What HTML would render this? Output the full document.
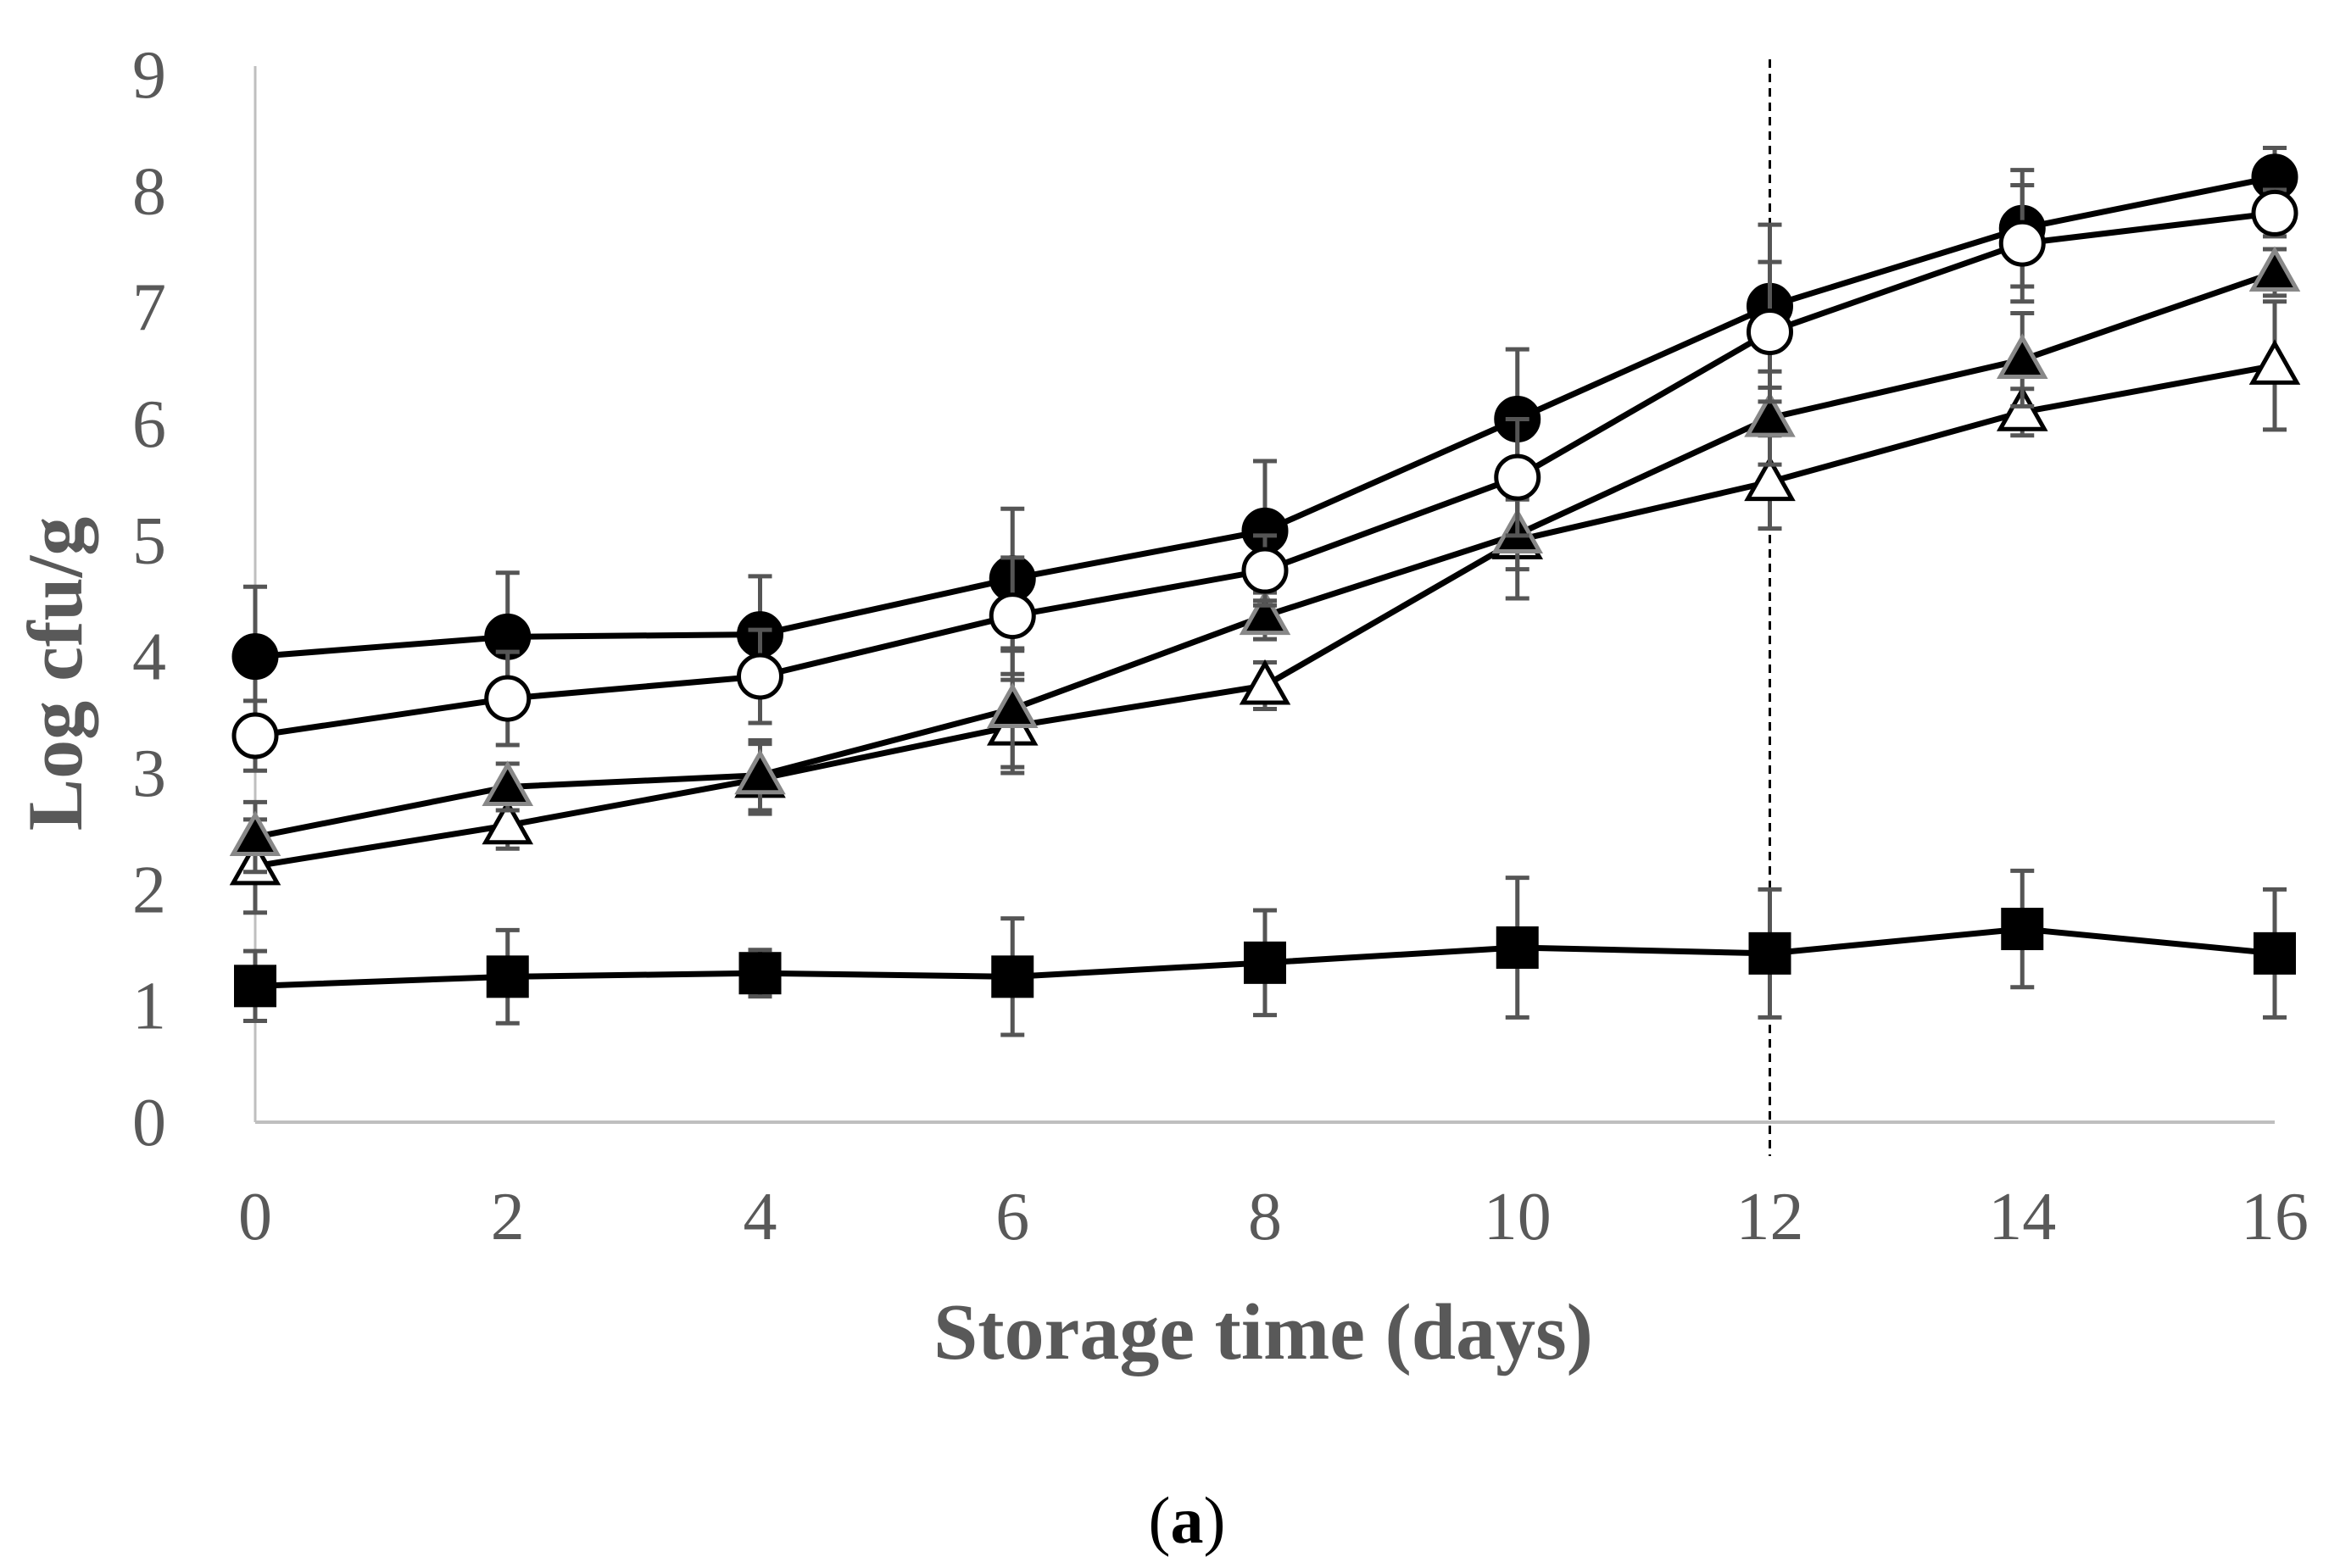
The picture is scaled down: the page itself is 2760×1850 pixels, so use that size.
<!DOCTYPE html>
<html><head><meta charset="utf-8"><style>
html,body{margin:0;padding:0;background:#fff;}
svg{display:block}
</style></head><body>
<svg id="chart" width="2760" height="1850" xmlns="http://www.w3.org/2000/svg">
<g id="axes"></g><g id="series"></g>
<text x="1490" y="1603" text-anchor="middle" font-family="Liberation Serif, serif" font-weight="bold" font-size="94" fill="#595959">Storage time (days)</text>
<text transform="translate(96,795) rotate(-90)" text-anchor="middle" font-family="Liberation Serif, serif" font-weight="bold" font-size="92" fill="#595959">Log cfu/g</text>
<text x="1400" y="1820" text-anchor="middle" font-family="Liberation Serif, serif" font-size="78" fill="#000">(<tspan font-weight="bold">a</tspan>)</text>
</svg>
<script>
const days = [0,2,4,6,8,10,12,14,16];
const yTicks = [0,1,2,3,4,5,6,7,8,9];
const filledCircle = [4.0,4.17,4.19,4.67,5.08,6.04,7.01,7.68,8.12];
const filledCircleErr = [0.6,0.55,0.5,0.6,0.6,0.6,0.7,0.5,0.25];
const openCircle = [3.32,3.64,3.83,4.35,4.74,5.54,6.79,7.55,7.81];
const openCircleErr = [0.3,0.4,0.4,0.5,0.3,0.5,0.6,0.5,0.2];
const filledTriangle = [2.45,2.88,2.98,3.55,4.35,5.05,6.05,6.55,7.3];
const filledTriangleErr = [0.3,0.2,0.3,0.5,0.2,0.3,0.4,0.4,0.2];
const openTriangle = [2.2,2.55,2.95,3.4,3.75,5.0,5.5,6.1,6.5];
const openTriangleErr = [0.4,0.2,0.3,0.4,0.2,0.5,0.4,0.2,0.55];
const square = [1.17,1.25,1.28,1.25,1.37,1.5,1.45,1.66,1.45];
const squareErr = [0.3,0.4,0.2,0.5,0.45,0.6,0.55,0.5,0.55];
const markerLine = 12;

const NS='http://www.w3.org/2000/svg';
const X0=301,X1=2683,Y0=1324,Y9=88;
const xs=d=>X0+(X1-X0)*d/16;
const ys=v=>Y0-(Y0-Y9)*v/9;
function mk(t,a,p){const e=document.createElementNS(NS,t);for(const k in a)e.setAttribute(k,a[k]);p.appendChild(e);return e;}
const axes=document.getElementById('axes');
const ser=document.getElementById('series');
let e=mk('line',{x1:X0,y1:Y9-10,x2:X0,y2:Y0,stroke:'#bfbfbf','stroke-width':3},axes);


e=mk('line',{x1:X0,y1:Y0,x2:X1,y2:Y0,stroke:'#bfbfbf','stroke-width':4},axes);


yTicks.forEach(v=>{const t=mk('text',{x:176,y:ys(v)+27,'text-anchor':'middle','font-family':'Liberation Serif, serif','font-size':80,fill:'#595959'},axes);t.textContent=v;

});
days.forEach(d=>{const t=mk('text',{x:xs(d),y:1462,'text-anchor':'middle','font-family':'Liberation Serif, serif','font-size':80,fill:'#595959'},axes);t.textContent=d;

});
e=mk('line',{x1:xs(markerLine),y1:70,x2:xs(markerLine),y2:1364,stroke:'#000','stroke-width':3,'stroke-dasharray':'10,7'},axes);



function series(name,vals,errs,shape,fill){
  const g=mk('g',{},ser);
  
  
  vals.forEach((v,i)=>{const x=xs(days[i]);const c=14;
    const b=mk('path',{d:`M${x},${ys(v+errs[i])}V${ys(v-errs[i])}M${x-c},${ys(v+errs[i])}H${x+c}M${x-c},${ys(v-errs[i])}H${x+c}`,stroke:'#555','stroke-width':5,fill:'none'},g);
    
    });
  const l=mk('polyline',{points:vals.map((v,i)=>xs(days[i])+','+ys(v)).join(' '),fill:'none',stroke:'#000','stroke-width':7},g);
  
  
  vals.forEach((v,i)=>{const x=xs(days[i]),y=ys(v);let m;
    if(shape==='circle')m=mk('circle',{cx:x,cy:y,r:25,fill:fill,stroke:'#000','stroke-width':5},g);
    else if(shape==='square')m=mk('rect',{x:x-25,y:y-25,width:50,height:50,fill:'#000'},g);
    else m=mk('path',{d:`M${x},${y-26}L${x+26},${y+20}L${x-26},${y+20}Z`,fill:fill,stroke:fill==='#000'?'#888':'#000','stroke-width':5},g);
    
    });
}
series('square',square,squareErr,'square','#000');
series('open-triangle',openTriangle,openTriangleErr,'tri','#fff');
series('filled-triangle',filledTriangle,filledTriangleErr,'tri','#000');
series('filled-circle',filledCircle,filledCircleErr,'circle','#000');
series('open-circle',openCircle,openCircleErr,'circle','#fff');
</script>
</body></html>
